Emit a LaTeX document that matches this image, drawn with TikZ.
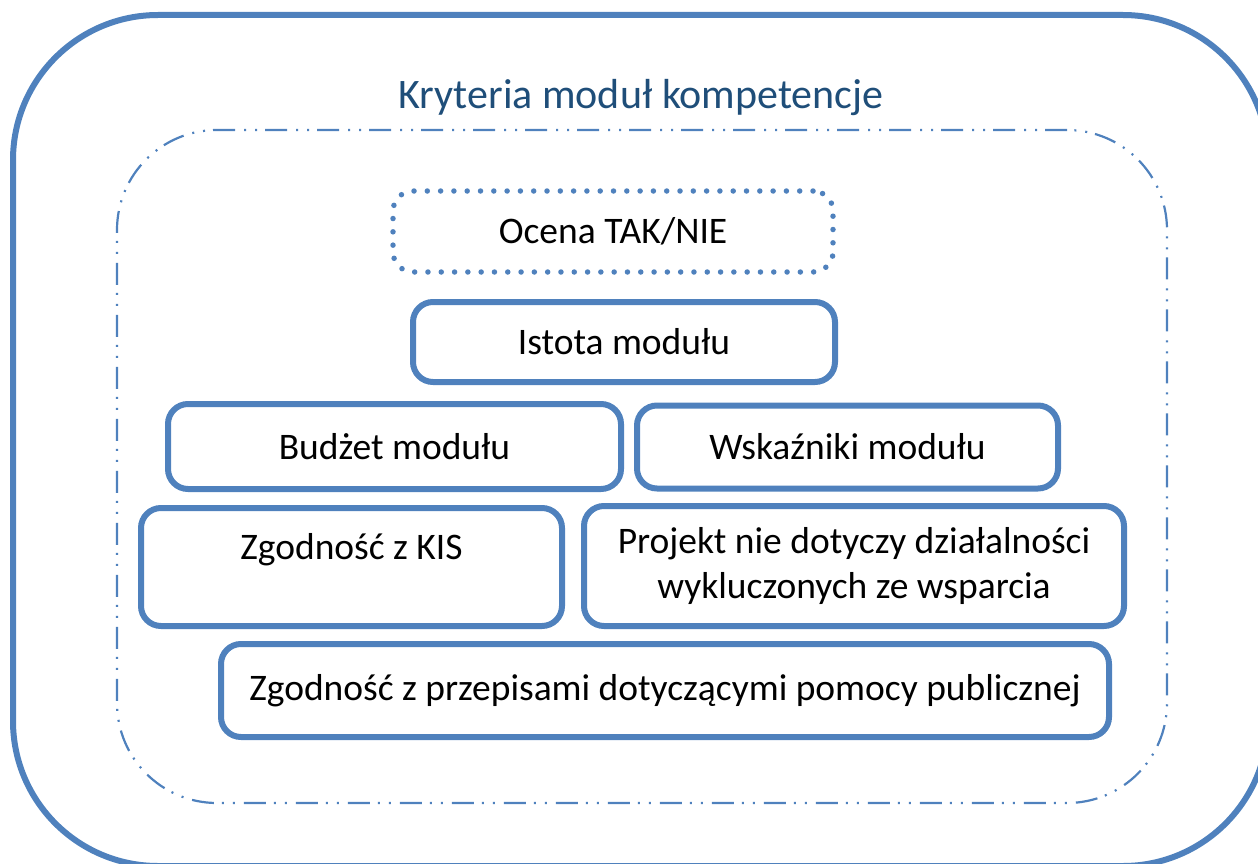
\documentclass[tikz,border=0pt]{standalone}
\usepackage{fontspec}
\setmainfont{Carlito}
\usepackage{tikz}
\usetikzlibrary{shapes, positioning}
\definecolor{boxblue}{RGB}{79,129,189}
\definecolor{titleblue}{RGB}{31,78,121}
\tikzstyle{box}     = [draw=boxblue, rectangle, rounded corners=20pt, line width=6pt, align=center]
\tikzstyle{dots}    = [draw=boxblue, rectangle, rounded corners=20pt, line width=5.5pt, line cap=round, dash pattern=on 0pt off 13.3pt]
\tikzstyle{frame}   = [draw=boxblue, rectangle, line width=6pt]
\tikzstyle{dashdot} = [draw=boxblue, rectangle, line width=2.2pt, dash pattern=on 22pt off 8pt on 2pt off 9pt on 2pt off 9pt]

\begin{document}
\begin{tikzpicture}[x=1pt, y=-1pt, font=\fontsize{37.5}{45}\selectfont, inner sep=0pt]

\useasboundingbox (0,0) rectangle (1258,864);

% frames
\node [frame, rounded corners=145pt, minimum width=1255pt, minimum height=851pt] (outer) at (640.5,440.5) {};
\node [dashdot, rounded corners=100pt, minimum width=1050pt, minimum height=673pt] (inner) at (642,466.5) {};
\node [text=titleblue, font=\fontsize{42}{50}\selectfont] (title) at (641,98) {Kryteria moduł kompetencje};

% nodes
\node [dots, minimum width=440pt, minimum height=81pt]  (ocena)     at (613,231.5) {Ocena TAK/NIE};
\node [box, minimum width=422pt, minimum height=80pt]   (istota)    at (624,342)   {Istota modułu};
\node [box, minimum width=453pt, minimum height=85pt]   (budzet)    at (394.5,446.5) {Budżet modułu};
\node [box, minimum width=421pt, minimum height=83pt]   (wskazniki) at (847.5,447) {Wskaźniki modułu};
\node [box, minimum width=421pt, minimum height=118pt]  (kis)       at (351.5,567) {\raisebox{-4pt}{Zgodność z KIS}\\\mbox{}};
\node [box, minimum width=540pt, minimum height=120pt]  (projekt)   at (854,566)   {\raisebox{-4pt}{Projekt nie dotyczy działalności}\\\raisebox{-4pt}{wykluczonych ze wsparcia}};
\node [box, minimum width=888pt, minimum height=93pt]   (przepisy)  at (665,690.5) {Zgodność z przepisami dotyczącymi pomocy publicznej};

\end{tikzpicture}
\end{document}
